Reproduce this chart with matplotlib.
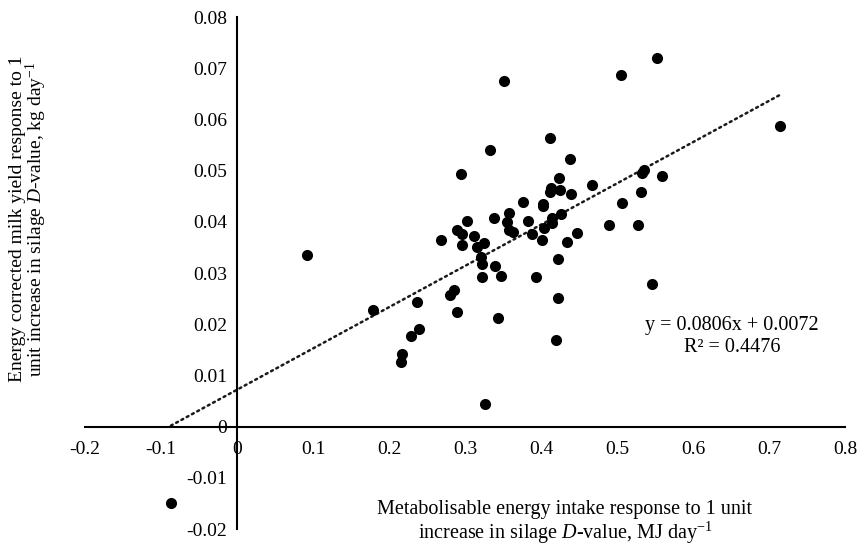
import matplotlib
matplotlib.use("Agg")
import matplotlib.pyplot as plt
import numpy as np

# Data
me_response = [
    -0.087, 0.0925, 0.1785, 0.216, 0.2175, 0.229, 0.239, 0.2364, 0.268, 0.280,
    0.286, 0.290, 0.289, 0.2965, 0.2965, 0.303, 0.312, 0.316, 0.325, 0.3206,
    0.3228, 0.322, 0.326, 0.338, 0.3395, 0.348, 0.344, 0.358, 0.3557, 0.358,
    0.3636, 0.3768, 0.383, 0.388, 0.393, 0.401, 0.402, 0.403, 0.404, 0.414,
    0.414, 0.426, 0.423, 0.422, 0.420, 0.434, 0.447, 0.351, 0.412, 0.333,
    0.2947, 0.438, 0.4237, 0.413, 0.425, 0.412, 0.439, 0.505, 0.552, 0.714,
    0.4667, 0.535, 0.533, 0.559, 0.531, 0.506, 0.490, 0.527, 0.5465,
]
ecm_response = [
    -0.0149, 0.0335, 0.0227, 0.0127, 0.0142, 0.0176, 0.0190, 0.0243, 0.0365, 0.0257,
    0.0267, 0.0224, 0.0384, 0.0377, 0.0355, 0.0402, 0.0372, 0.0351, 0.0359, 0.0331,
    0.0318, 0.0292, 0.0045, 0.0408, 0.0314, 0.0295, 0.0213, 0.0417, 0.0399, 0.0384,
    0.0381, 0.0438, 0.0402, 0.0377, 0.0293, 0.0365, 0.0430, 0.0434, 0.0387, 0.0407,
    0.0397, 0.0416, 0.0327, 0.0252, 0.0169, 0.0361, 0.0379, 0.0675, 0.0564, 0.0541,
    0.0494, 0.0523, 0.0485, 0.0466, 0.0462, 0.0458, 0.0455, 0.0687, 0.0719, 0.0588,
    0.0472, 0.0502, 0.0496, 0.0489, 0.0459, 0.0437, 0.0394, 0.0393, 0.0279,
]
slope = 0.0806
intercept = 0.0072
r_squared = 0.4476

x_ticks = [-0.2, -0.1, 0, 0.1, 0.2, 0.3, 0.4, 0.5, 0.6, 0.7, 0.8]
x_tick_labels = ["-0.2", "-0.1", "0", "0.1", "0.2", "0.3", "0.4", "0.5", "0.6", "0.7", "0.8"]
y_ticks = [-0.02, -0.01, 0, 0.01, 0.02, 0.03, 0.04, 0.05, 0.06, 0.07, 0.08]
y_tick_labels = ["-0.02", "-0.01", "0", "0.01", "0.02", "0.03", "0.04", "0.05", "0.06", "0.07", "0.08"]

plt.rcParams['font.family'] = ['Liberation Serif', 'DejaVu Serif']
plt.rcParams['mathtext.fontset'] = 'custom'
plt.rcParams['mathtext.rm'] = 'Liberation Serif'
plt.rcParams['mathtext.it'] = 'Liberation Serif:italic'
plt.rcParams['mathtext.bf'] = 'Liberation Serif:bold'
FS = 14
FS_T = 14.5

fig = plt.figure(figsize=(8.62, 5.48), dpi=100)
ax = fig.add_axes([85/862, 1-529/548, 760/862, 512/548])

ax.scatter(me_response, ecm_response, s=64, color='black', zorder=3, linewidths=0)

xs = np.array([min(me_response), max(me_response)])
ax.plot(xs, slope*xs + intercept, color='#1a1a1a', lw=1.8,
        linestyle=(0, (0.8, 1.6)), zorder=2, dash_capstyle='round')

ax.set_xlim(-0.2, 0.8)
ax.set_ylim(-0.02, 0.08)
ax.spines['left'].set_position(('data', 0))
ax.spines['bottom'].set_position(('data', 0))
ax.spines['top'].set_visible(False)
ax.spines['right'].set_visible(False)
for s in ('left', 'bottom'):
    ax.spines[s].set_linewidth(1.5)
    ax.spines[s].set_color('black')

ax.set_xticks(x_ticks)
ax.set_xticklabels(x_tick_labels, fontsize=FS)
ax.set_yticks(y_ticks)
ax.set_yticklabels(y_tick_labels, fontsize=FS)
ax.tick_params(axis='both', length=0)
ax.tick_params(axis='y', pad=7)
ax.tick_params(axis='x', pad=10.5)
ax.patch.set_visible(False)

fig.text(29/862, 1-219/548,
         "Energy corrected milk yield response to 1\n"
         "unit increase in silage $\\mathit{D}$-value, kg day$^{-1}$",
         rotation=90, ha='center', va='center', fontsize=FS, linespacing=0.9,
         multialignment='center')

fig.text(565/862, 1-523/548,
         "Metabolisable energy intake response to 1 unit\n"
         "increase in silage $\\mathit{D}$-value, MJ day$^{-1}$",
         ha='center', va='center', fontsize=FS_T, linespacing=1.05,
         multialignment='center')

ax.text(0.6513, 0.01756,
        f"y = {slope:.4f}x + {intercept:.4f}\nR\u00b2 = {r_squared:.4f}",
        ha='center', va='center', fontsize=FS_T, linespacing=1.2,
        multialignment='center')

fig.savefig("out.png", dpi=100)
